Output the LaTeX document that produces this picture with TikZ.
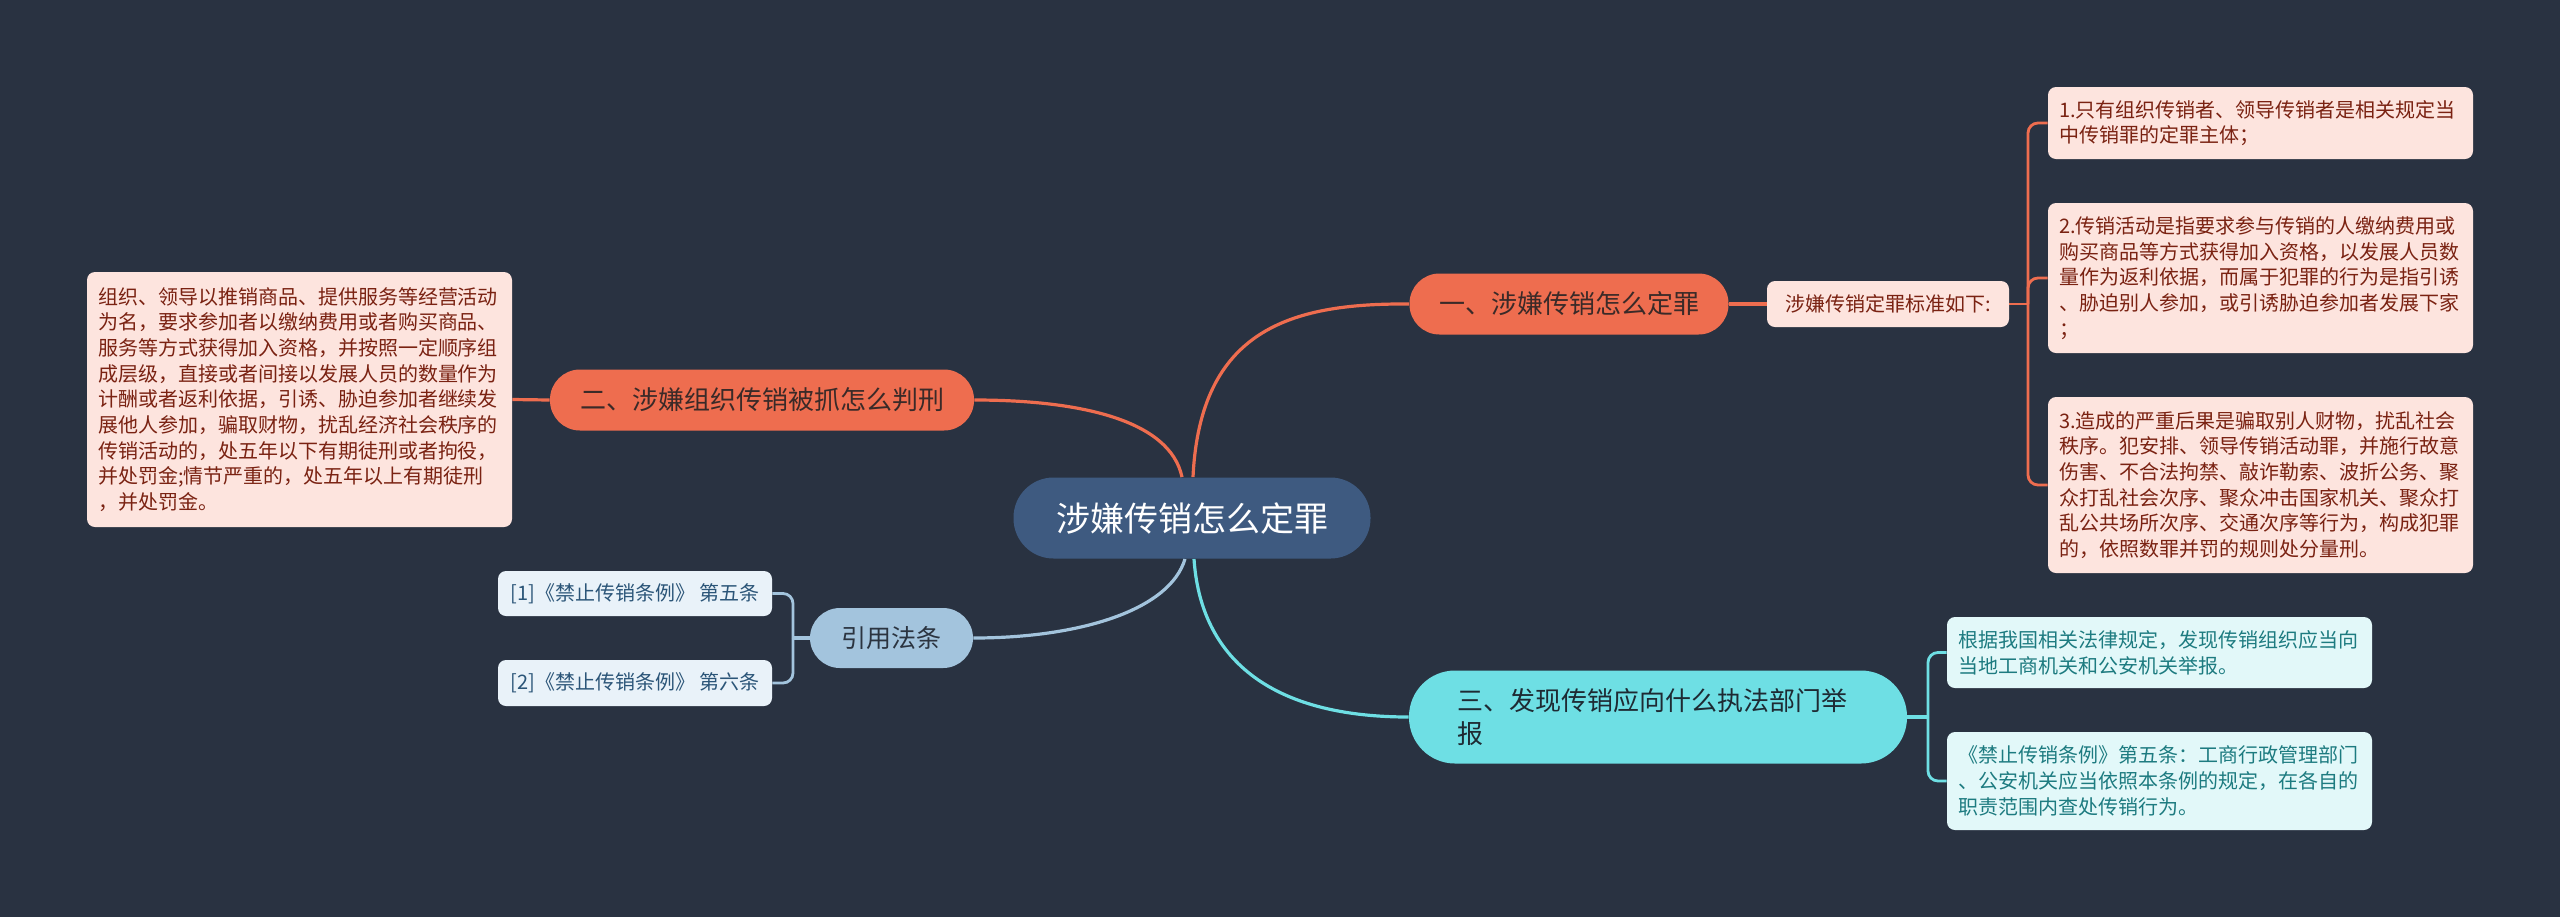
\documentclass[tikz,border=0pt]{standalone}
\usepackage{fontspec}
\setmainfont{Noto Sans CJK SC}
\definecolor{bgc}{HTML}{293241}
\definecolor{rootc}{HTML}{3E5A80}
\definecolor{orc}{HTML}{EE6D4F}
\definecolor{ortext}{HTML}{3A2A28}
\definecolor{pinkc}{HTML}{FDE4DE}
\definecolor{pinktext}{HTML}{7A2212}
\definecolor{cyc}{HTML}{6EDFE4}
\definecolor{cytext}{HTML}{1E2A33}
\definecolor{lcyc}{HTML}{E2F8F9}
\definecolor{lcytext}{HTML}{1D7B80}
\definecolor{blc}{HTML}{A3C4DD}
\definecolor{bltext}{HTML}{2B3440}
\definecolor{lblc}{HTML}{E9F2F9}
\definecolor{lbltext}{HTML}{2B5578}
\pgfdeclarelayer{bg}
\pgfsetlayers{bg,main}
\tikzset{
  rootnode/.style={fill=rootc, text=white, rounded corners=20pt, minimum width=178.5pt, minimum height=40.5pt, inner sep=0pt, font=\fontsize{17pt}{20pt}\selectfont},
  mainnode/.style={rounded corners=15pt, minimum height=30.5pt, inner sep=0pt, font=\fontsize{13pt}{16.5pt}\selectfont},
  onode/.style={mainnode, fill=orc, text=ortext},
  pbox/.style={fill=pinkc, text=pinktext, rounded corners=4pt, inner xsep=5.5pt, inner ysep=0pt, align=left, font=\fontsize{10pt}{12.85pt}\selectfont},
  cbox/.style={fill=lcyc, text=lcytext, rounded corners=4pt, inner xsep=5.5pt, inner ysep=0pt, align=left, font=\fontsize{10pt}{12.85pt}\selectfont},
  rbox/.style={fill=lblc, text=lbltext, rounded corners=4pt, inner sep=0pt, minimum width=137pt, font=\fontsize{10pt}{12.85pt}\selectfont},
  oline/.style={draw=orc, line width=1.6pt},
  obrk/.style={draw=orc, line width=1.4pt, rounded corners=5pt},
  cline/.style={draw=cyc, line width=1.6pt},
  cbrk/.style={draw=cyc, line width=1.4pt, rounded corners=5pt},
  bline/.style={draw=blc, line width=1.6pt},
  bbrk/.style={draw=blc, line width=1.4pt, rounded corners=5pt},
}
\begin{document}
\begin{tikzpicture}[x=0.5pt,y=-0.5pt]
\begin{pgfonlayer}{bg}
\fill[bgc] (0,0) rectangle (2560,917);
\end{pgfonlayer}
\useasboundingbox (0,0) rectangle (2560,917);

% nodes
\node[rootnode] (root) at (1192,518) {涉嫌传销怎么定罪};

\node[onode, minimum width=159.5pt] (n1) at (1569,304) {一、涉嫌传销怎么定罪};
\node[pbox, align=center, minimum width=121pt, minimum height=23pt, inner xsep=0pt] (n1s) at (1888,304) {涉嫌传销定罪标准如下:};
\node[pbox, text width=201.5pt, minimum height=36pt] (b1) at (2260.5,123) {1.只有组织传销者、领导传销者是相关规定当\\中传销罪的定罪主体；};
\node[pbox, text width=201.5pt, minimum height=75pt] (b2) at (2260.5,278) {2.传销活动是指要求参与传销的人缴纳费用或\\购买商品等方式获得加入资格，以发展人员数\\量作为返利依据，而属于犯罪的行为是指引诱\\、胁迫别人参加，或引诱胁迫参加者发展下家\\；};
\node[pbox, text width=201.5pt, minimum height=88pt] (b3) at (2260.5,485) {3.造成的严重后果是骗取别人财物，扰乱社会\\秩序。犯安排、领导传销活动罪，并施行故意\\伤害、不合法拘禁、敲诈勒索、波折公务、聚\\众打乱社会次序、聚众冲击国家机关、聚众打\\乱公共场所次序、交通次序等行为，构成犯罪\\的，依照数罪并罚的规则处分量刑。};

\node[onode, minimum width=212pt] (n2) at (762,400) {二、涉嫌组织传销被抓怎么判刑};
\node[pbox, text width=201.5pt, minimum height=127.5pt] (b4) at (299.5,399.5) {组织、领导以推销商品、提供服务等经营活动\\为名，要求参加者以缴纳费用或者购买商品、\\服务等方式获得加入资格，并按照一定顺序组\\成层级，直接或者间接以发展人员的数量作为\\计酬或者返利依据，引诱、胁迫参加者继续发\\展他人参加，骗取财物，扰乱经济社会秩序的\\传销活动的，处五年以下有期徒刑或者拘役，\\并处罚金;情节严重的，处五年以上有期徒刑\\，并处罚金。};

\node[mainnode, fill=cyc, text=cytext, rounded corners=23pt, minimum height=46.5pt, inner xsep=24pt, text width=201pt, align=left] (n3) at (1658,717) {三、发现传销应向什么执法部门举\\报};
\node[cbox, text width=201.5pt, minimum height=35.5pt] (c1) at (2159.5,652.5) {根据我国相关法律规定，发现传销组织应当向\\当地工商机关和公安机关举报。};
\node[cbox, text width=201.5pt, minimum height=49pt] (c2) at (2159.5,781) {《禁止传销条例》第五条：工商行政管理部门\\、公安机关应当依照本条例的规定，在各自的\\职责范围内查处传销行为。};

\node[mainnode, fill=blc, text=bltext, minimum width=81.5pt, minimum height=30pt, font=\fontsize{12.5pt}{15pt}\selectfont] (n4) at (891.5,638) {引用法条};
\node[rbox, minimum height=22.5pt] (r1) at (635,593.5) {[1]《禁止传销条例》 第五条};
\node[rbox, minimum height=23pt] (r2) at (635,683) {[2]《禁止传销条例》 第六条};

% junctions
\coordinate (j1) at (2028,304);
\coordinate (j3) at (1928,717);
\coordinate (j4) at (793,638);

% connectors
\begin{pgfonlayer}{bg}
\draw[oline] ([xshift=0.5pt]root.north) .. controls (1200,330) and (1290,303) .. (n1.west);
\draw[oline] ([xshift=-5pt]root.north) .. controls (1170,420) and (1080,400) .. (n2.east);
\draw[bline] ([xshift=-3.5pt]root.south) .. controls (1170,610) and (1080,638) .. (n4.east);
\draw[cline] ([xshift=1pt]root.south) .. controls (1200,650) and (1260,717) .. (n3.west);

\draw[oline] (n1.east) -- (n1s.west);
\draw[obrk] (n1s.east) -- (j1);
\draw[obrk] (j1) |- (b1.west);
\draw[obrk] (j1) |- (b2.west);
\draw[obrk] (j1) |- (b3.west);

\draw[oline] (n2.west) -- (b4.east);

\draw[cline] (n3.east) -- (j3);
\draw[cbrk] (j3) |- (c1.west);
\draw[cbrk] (j3) |- (c2.west);

\draw[bline] (n4.west) -- (j4);
\draw[bbrk] (j4) |- (r1.east);
\draw[bbrk] (j4) |- (r2.east);
\end{pgfonlayer}
\end{tikzpicture}
\end{document}
